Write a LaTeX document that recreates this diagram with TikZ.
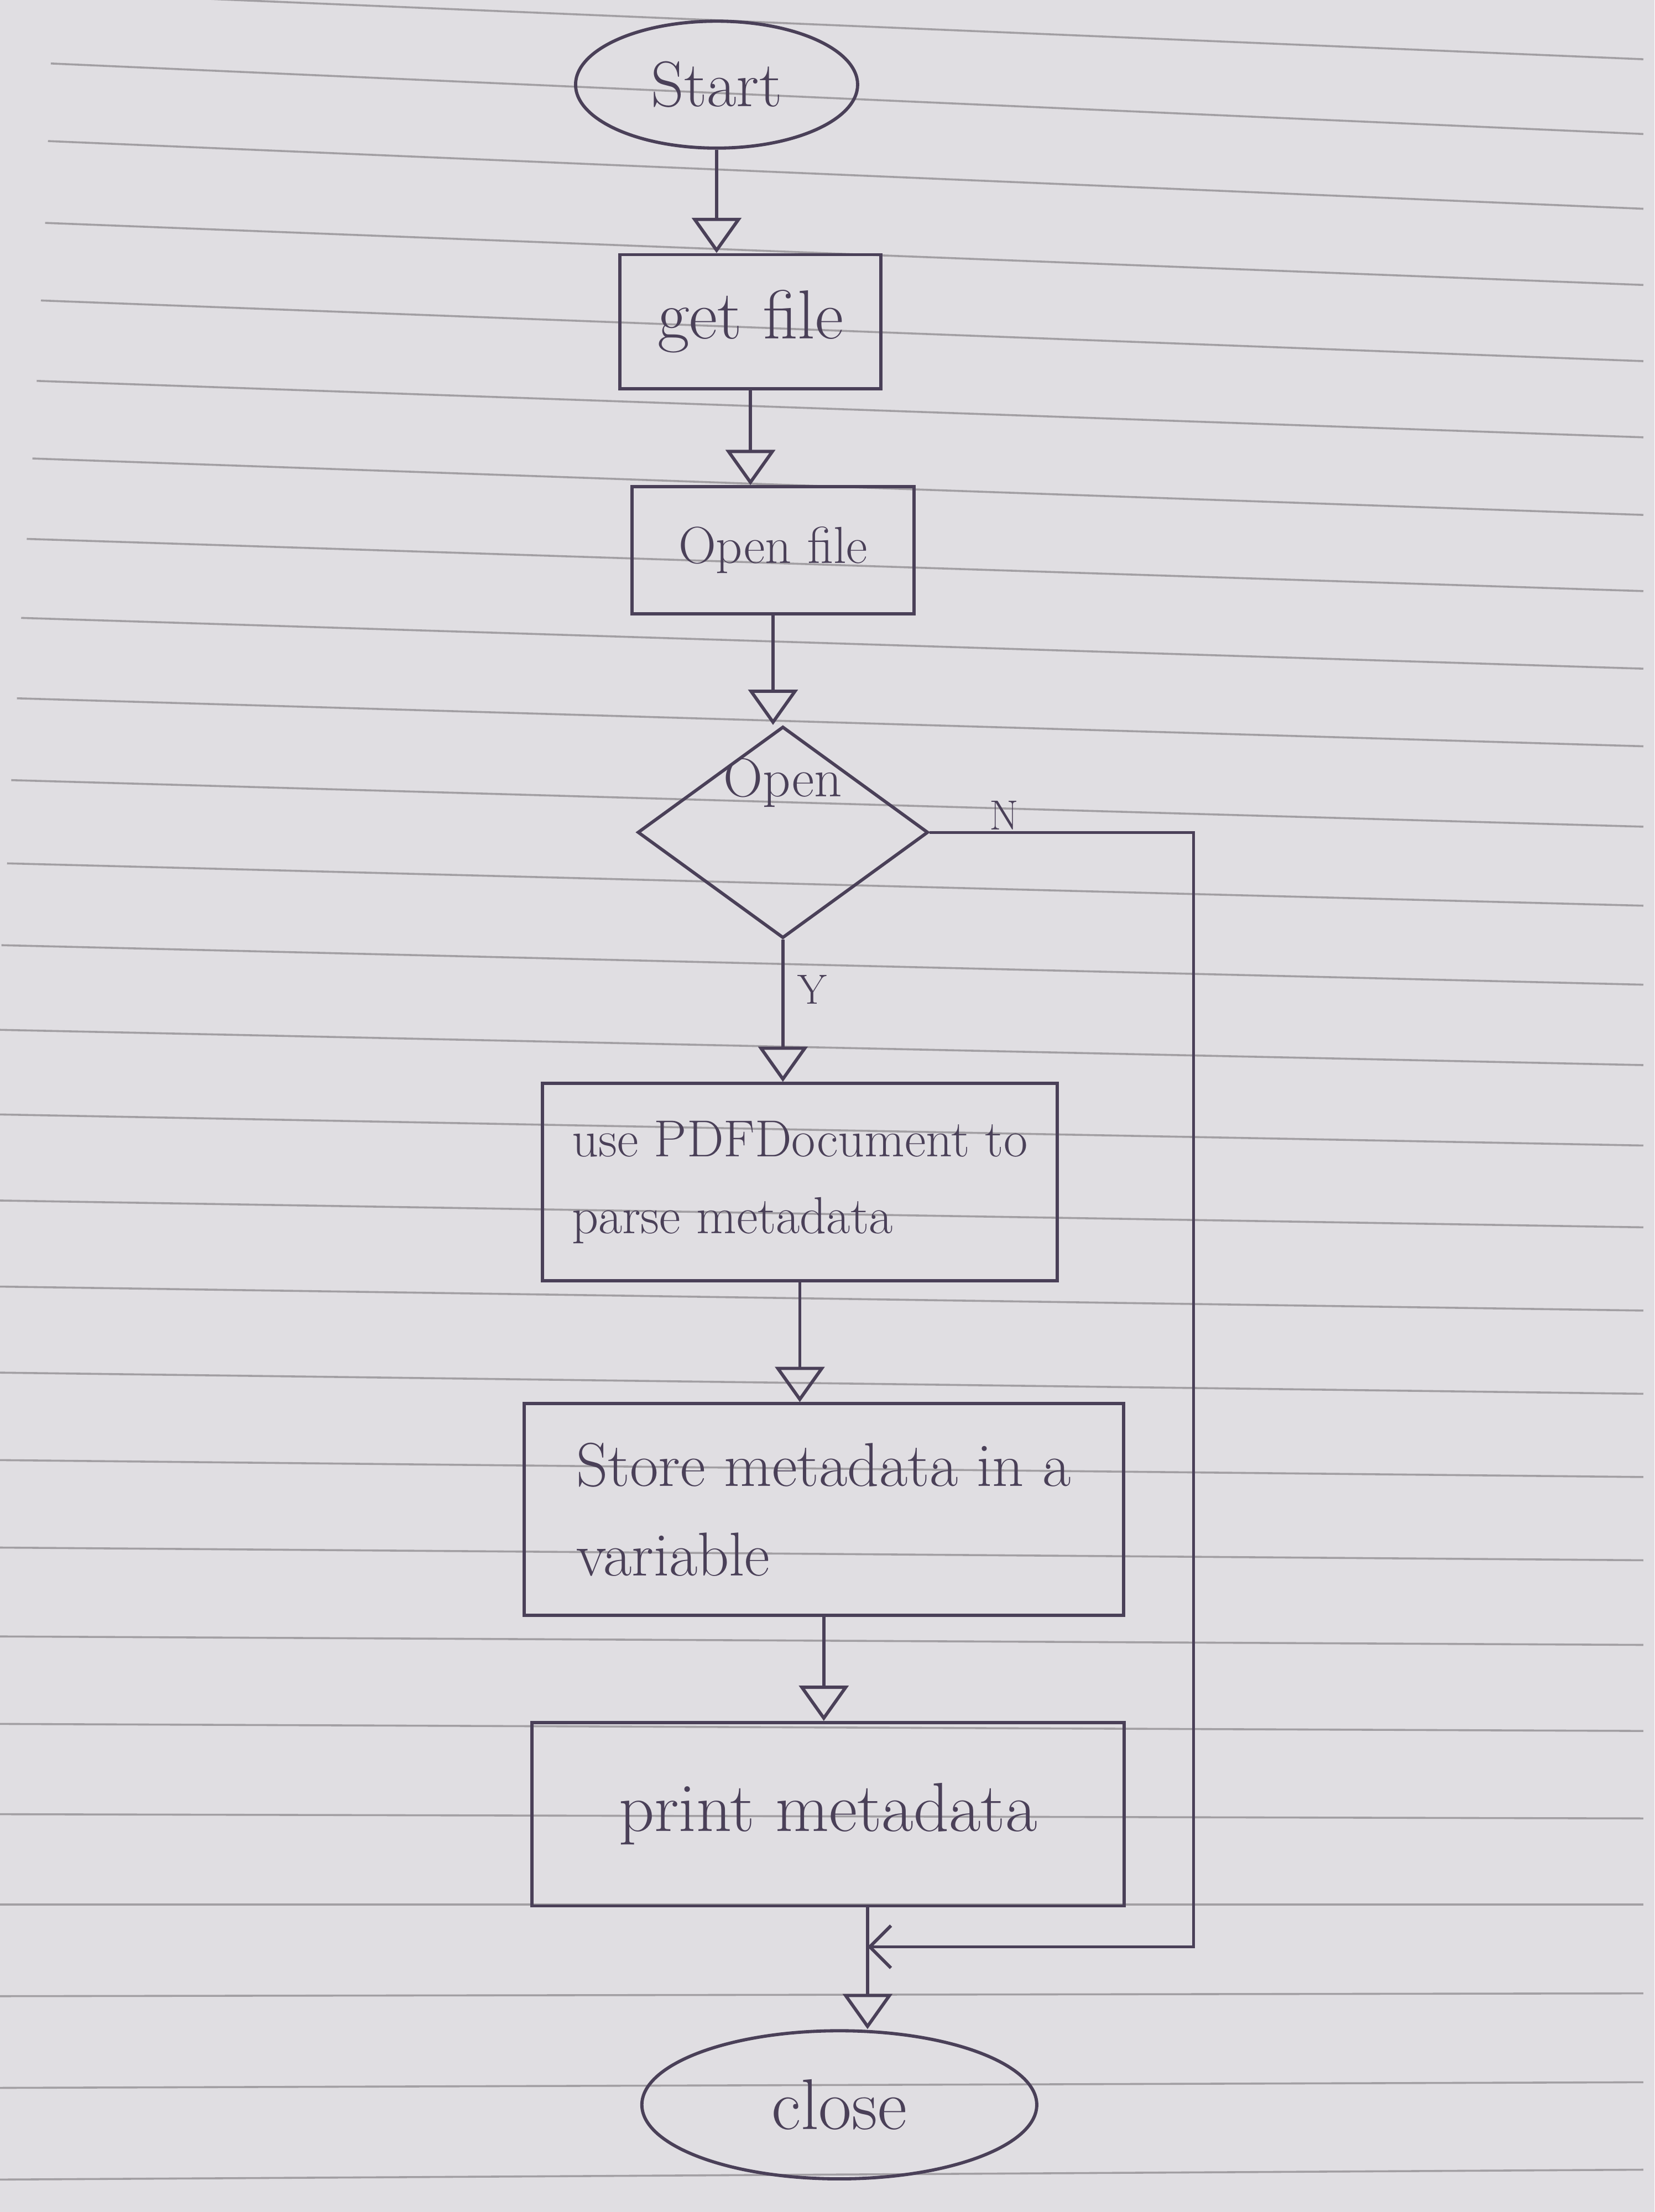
\documentclass[tikz,border=0pt]{standalone}
\usetikzlibrary{shapes.geometric,arrows.meta}

\definecolor{ink}{RGB}{74,64,88}
\definecolor{paper}{RGB}{224,222,226}
\definecolor{rulegrey}{RGB}{162,159,163}

\tikzset{
  stepbox/.style={draw=ink,line width=1.3pt,text=ink,font=\fontsize{21}{31}\selectfont},
  terminal/.style={stepbox,ellipse},
  decision/.style={stepbox,diamond,inner sep=0pt},
  flow/.style={draw=ink,line width=1.3pt,-{Triangle[open,length=0.5cm,width=0.7cm,line width=1.3pt]}},
  merge/.style={draw=ink,line width=1.1pt,-{Straight Barb[length=0.3cm,width=0.6cm,line width=1.3pt]}},
  tag/.style={text=ink,font=\fontsize{17}{20}\selectfont},
  ruled/.style={draw=rulegrey,line width=0.8pt}
}

\begin{document}
\begin{tikzpicture}[x=0.02cm,y=-0.02cm]
\useasboundingbox (0,0) rectangle (1173,1568);
\fill[paper] (0,0) rectangle (1173,1568);

% ruled paper
\begin{scope}
\clip (0,0) rectangle (1173,1568);
\foreach \l/\r/\s in {-7/42/0,45/95/36,100/148/34,158/202/32,213/256/29,270/310/26,
  325/365/23,382/419/19,438/474/15,495/529/12,553/586/8,612/642/5,670/698/1,
  730/755/0,790/812/0,851/870/0,912/929/0,973/988/0,1035/1047/0,1097/1106/0,
  1160/1166/0,1222/1227/0,1286/1289/0,1350/1350/0,1415/1413/0,1480/1476/0,1545/1538/0}
  \draw[ruled] (\s,\l) -- (1165,\r);
\end{scope}

\node (S) at (508,60) [terminal,minimum width=4cm,minimum height=1.8cm,
  font=\fontsize{26}{31}\selectfont] {Start};
\node (G) at (532,228) [stepbox,minimum width=3.7cm,minimum height=1.9cm,
  font=\fontsize{28}{31}\selectfont] {get file};
\node (O) at (548,390) [stepbox,minimum width=4cm,minimum height=1.8cm] {Open file};
\node (D) at (555,590) [decision,minimum width=4.12cm,minimum height=3cm,
  label={[text=ink,font=\fontsize{22}{31}\selectfont,yshift=0.7cm]center:Open}] {};

\node (P) at (567,838) [stepbox,minimum width=7.3cm,minimum height=2.8cm,align=left]
  {use PDFDocument to\\parse metadata};
\node (St) at (584,1070) [stepbox,minimum width=8.5cm,minimum height=3cm,align=left,
  font=\fontsize{25}{36}\selectfont] {Store metadata in a\\variable};
\node (Pr) at (587,1286) [stepbox,minimum width=8.4cm,minimum height=2.6cm,
  font=\fontsize{28}{31}\selectfont] {print metadata};
\node (C) at (595,1492) [terminal,minimum width=5.6cm,minimum height=2.1cm,
  font=\fontsize{29}{31}\selectfont] {close};

\coordinate (M) at (615,1380);
\coordinate (NR) at (846,1380);

\draw[flow] (S.south) -- (S.south |- G.north);
\draw[flow] (G.south) -- (G.south |- O.north);
\draw[flow] (O.south) -- (O.south |- D.north);
\draw[flow] (D.south) -- (D.south |- P.north) node[tag,pos=0.35,right=2pt] {Y};
\draw[flow] (P.south) -- (P.south |- St.north);
\draw[flow] (St.south) -- (St.south |- Pr.north);
\draw[flow] (M |- Pr.south) -- (M |- C.north);
\draw[merge] (D.east) -| (NR) -- (M);

\node[tag] (N) at (712,578) {N};

\end{tikzpicture}
\end{document}
